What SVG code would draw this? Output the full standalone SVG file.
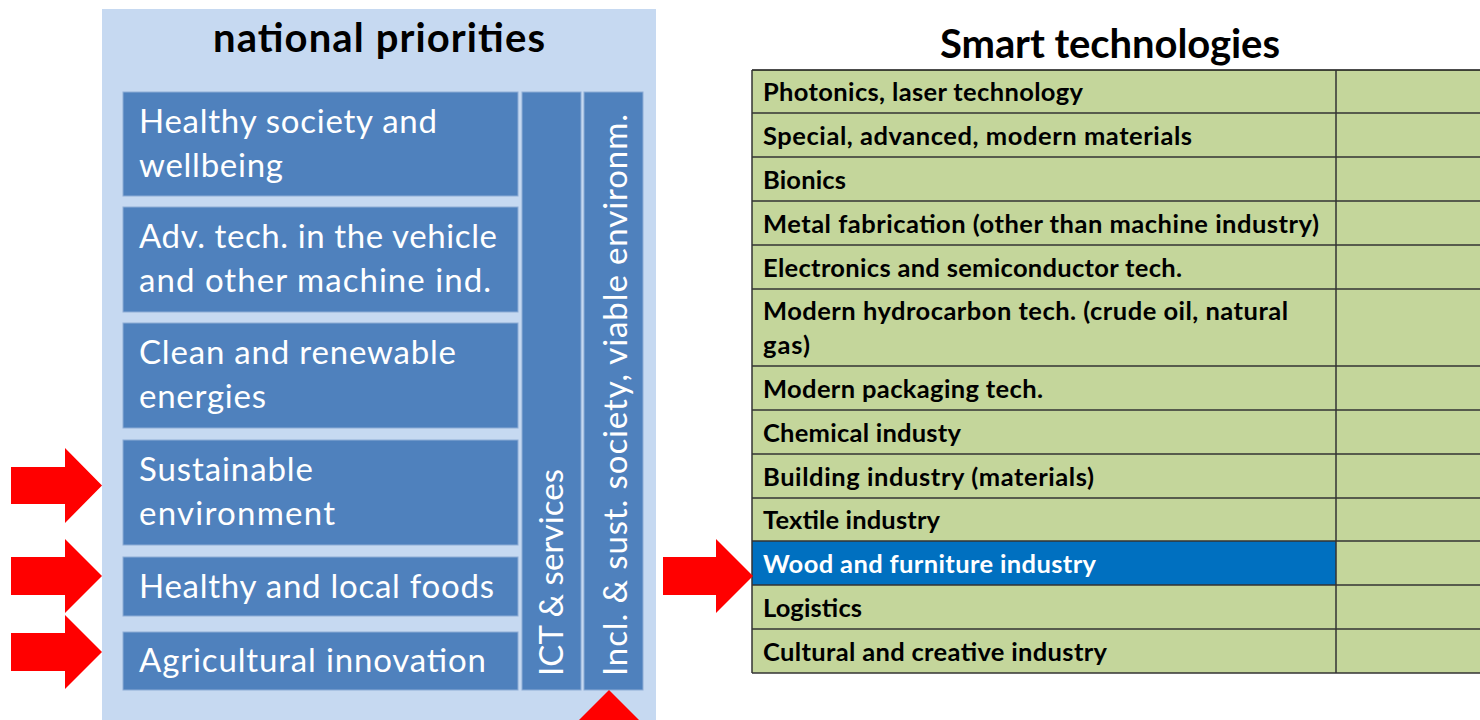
<svg xmlns="http://www.w3.org/2000/svg" width="1480" height="720" viewBox="0 0 1480 720">
  <style>
    .panel { fill: #C6D9F1; }
    .box { fill: #4F81BD; stroke: #8EADD6; stroke-width: 1; }
    .btxt { font-family: Lato, "Liberation Sans", sans-serif; font-size: 33px; fill: #FFFFFF; }
    .title { font-family: Lato, "Liberation Sans", sans-serif; font-size: 40px; font-weight: bold; fill: #000000; }
    .cell { fill: #C4D69B; }
    .cellsel { fill: #0070C0; }
    .ttxt { font-family: Lato, "Liberation Sans", sans-serif; font-size: 25.5px; font-weight: bold; fill: #000000; }
    .ttxtw { font-family: Lato, "Liberation Sans", sans-serif; font-size: 25.5px; font-weight: bold; fill: #FFFFFF; }
    .grid { stroke: #333333; stroke-width: 1.5; fill: none; }
    .arrow { fill: #FF0000; }
  </style>

  <g id="national-priorities">
    <rect class="panel" x="102" y="9" width="554" height="720"/>
    <text class="title" x="379" y="52" text-anchor="middle" textLength="332">national priorities</text>
  </g>

  <g id="p-healthy-society">
    <rect class="box" x="123" y="92" width="395" height="104"/>
    <text class="btxt" x="139" y="133" textLength="298">Healthy society and</text>
    <text class="btxt" x="139" y="177" textLength="144">wellbeing</text>
  </g>
  <g id="p-adv-tech">
    <rect class="box" x="123" y="207" width="395" height="105"/>
    <text class="btxt" x="139" y="248" textLength="358">Adv. tech. in the vehicle</text>
    <text class="btxt" x="139" y="292" textLength="352">and other machine ind.</text>
  </g>
  <g id="p-clean-energy">
    <rect class="box" x="123" y="323" width="395" height="105"/>
    <text class="btxt" x="139" y="364" textLength="317">Clean and renewable</text>
    <text class="btxt" x="139" y="408" textLength="127">energies</text>
  </g>
  <g id="p-sustainable-env">
    <rect class="box" x="123" y="440" width="395" height="105"/>
    <text class="btxt" x="139" y="481" textLength="174">Sustainable</text>
    <text class="btxt" x="139" y="525" textLength="196">environment</text>
  </g>
  <g id="p-healthy-foods">
    <rect class="box" x="123" y="557" width="395" height="59"/>
    <text class="btxt" x="139" y="598" textLength="355">Healthy and local foods</text>
  </g>
  <g id="p-agri-innovation">
    <rect class="box" x="123" y="632" width="395" height="58"/>
    <text class="btxt" x="139" y="672" textLength="347">Agricultural innovation</text>
  </g>
  <g id="p-ict">
    <rect class="box" x="522" y="92" width="59" height="598"/>
    <text class="btxt" transform="translate(563,676) rotate(-90)" textLength="207">ICT &amp; services</text>
  </g>
  <g id="p-inclusive">
    <rect class="box" x="584" y="92" width="59" height="598"/>
    <text class="btxt" transform="translate(627,676) rotate(-90)" textLength="562">Incl. &amp; sust. society, viable environm.</text>
  </g>

  <g id="smart-technologies">
    <text class="title" x="1110" y="58" text-anchor="middle" textLength="340">Smart technologies</text>
    <rect class="cell" x="752" y="70" width="740" height="603"/>
    <rect class="cellsel" x="752" y="541" width="584" height="44"/>
    <g class="grid">
      <line x1="752" y1="70" x2="1480" y2="70" stroke="#111"/>
      <line x1="752" y1="113" x2="1480" y2="113"/>
      <line x1="752" y1="157" x2="1480" y2="157"/>
      <line x1="752" y1="201" x2="1480" y2="201"/>
      <line x1="752" y1="245" x2="1480" y2="245"/>
      <line x1="752" y1="289" x2="1480" y2="289"/>
      <line x1="752" y1="366" x2="1480" y2="366"/>
      <line x1="752" y1="410" x2="1480" y2="410"/>
      <line x1="752" y1="454" x2="1480" y2="454"/>
      <line x1="752" y1="498" x2="1480" y2="498"/>
      <line x1="752" y1="541" x2="1480" y2="541"/>
      <line x1="752" y1="585" x2="1480" y2="585"/>
      <line x1="752" y1="629" x2="1480" y2="629"/>
      <line x1="752" y1="673" x2="1480" y2="673"/>
      <line x1="752" y1="70" x2="752" y2="673"/>
      <line x1="1336" y1="70" x2="1336" y2="673"/>
    </g>
    <g id="t-photonics"><text class="ttxt" x="763" y="101" textLength="320">Photonics, laser technology</text></g>
    <g id="t-materials"><text class="ttxt" x="763" y="145" textLength="429">Special, advanced, modern materials</text></g>
    <g id="t-bionics"><text class="ttxt" x="763" y="189" textLength="83">Bionics</text></g>
    <g id="t-metal"><text class="ttxt" x="763" y="233" textLength="556">Metal fabrication (other than machine industry)</text></g>
    <g id="t-electronics"><text class="ttxt" x="763" y="277" textLength="419">Electronics and semiconductor tech.</text></g>
    <g id="t-hydrocarbon"><text class="ttxt" x="763" y="320" textLength="525">Modern hydrocarbon tech. (crude oil, natural</text><text class="ttxt" x="763" y="354" textLength="47">gas)</text></g>
    <g id="t-packaging"><text class="ttxt" x="763" y="398" textLength="280">Modern packaging tech.</text></g>
    <g id="t-chemical"><text class="ttxt" x="763" y="442" textLength="198">Chemical industy</text></g>
    <g id="t-building"><text class="ttxt" x="763" y="486" textLength="331">Building industry (materials)</text></g>
    <g id="t-textile"><text class="ttxt" x="763" y="529" textLength="177">Textile industry</text></g>
    <g id="t-wood"><text class="ttxtw" x="763" y="573" textLength="333">Wood and furniture industry</text></g>
    <g id="t-logistics"><text class="ttxt" x="763" y="617" textLength="99">Logistics</text></g>
    <g id="t-cultural"><text class="ttxt" x="763" y="661" textLength="344">Cultural and creative industry</text></g>
  </g>

  <g id="connectors">
    <polygon class="arrow" points="11,467 65,467 65,448 102,485.5 65,523 65,504 11,504"/>
    <polygon class="arrow" points="11,557 65,557 65,539 102,576 65,613 65,595 11,595"/>
    <polygon class="arrow" points="11,633 65,633 65,615 102,652 65,689 65,671 11,671"/>
    <polygon class="arrow" points="663,557 716,557 716,539 753,576 716,613 716,595 663,595"/>
    <polygon class="arrow" points="609,690 578,721 640,721"/>
  </g>
</svg>
